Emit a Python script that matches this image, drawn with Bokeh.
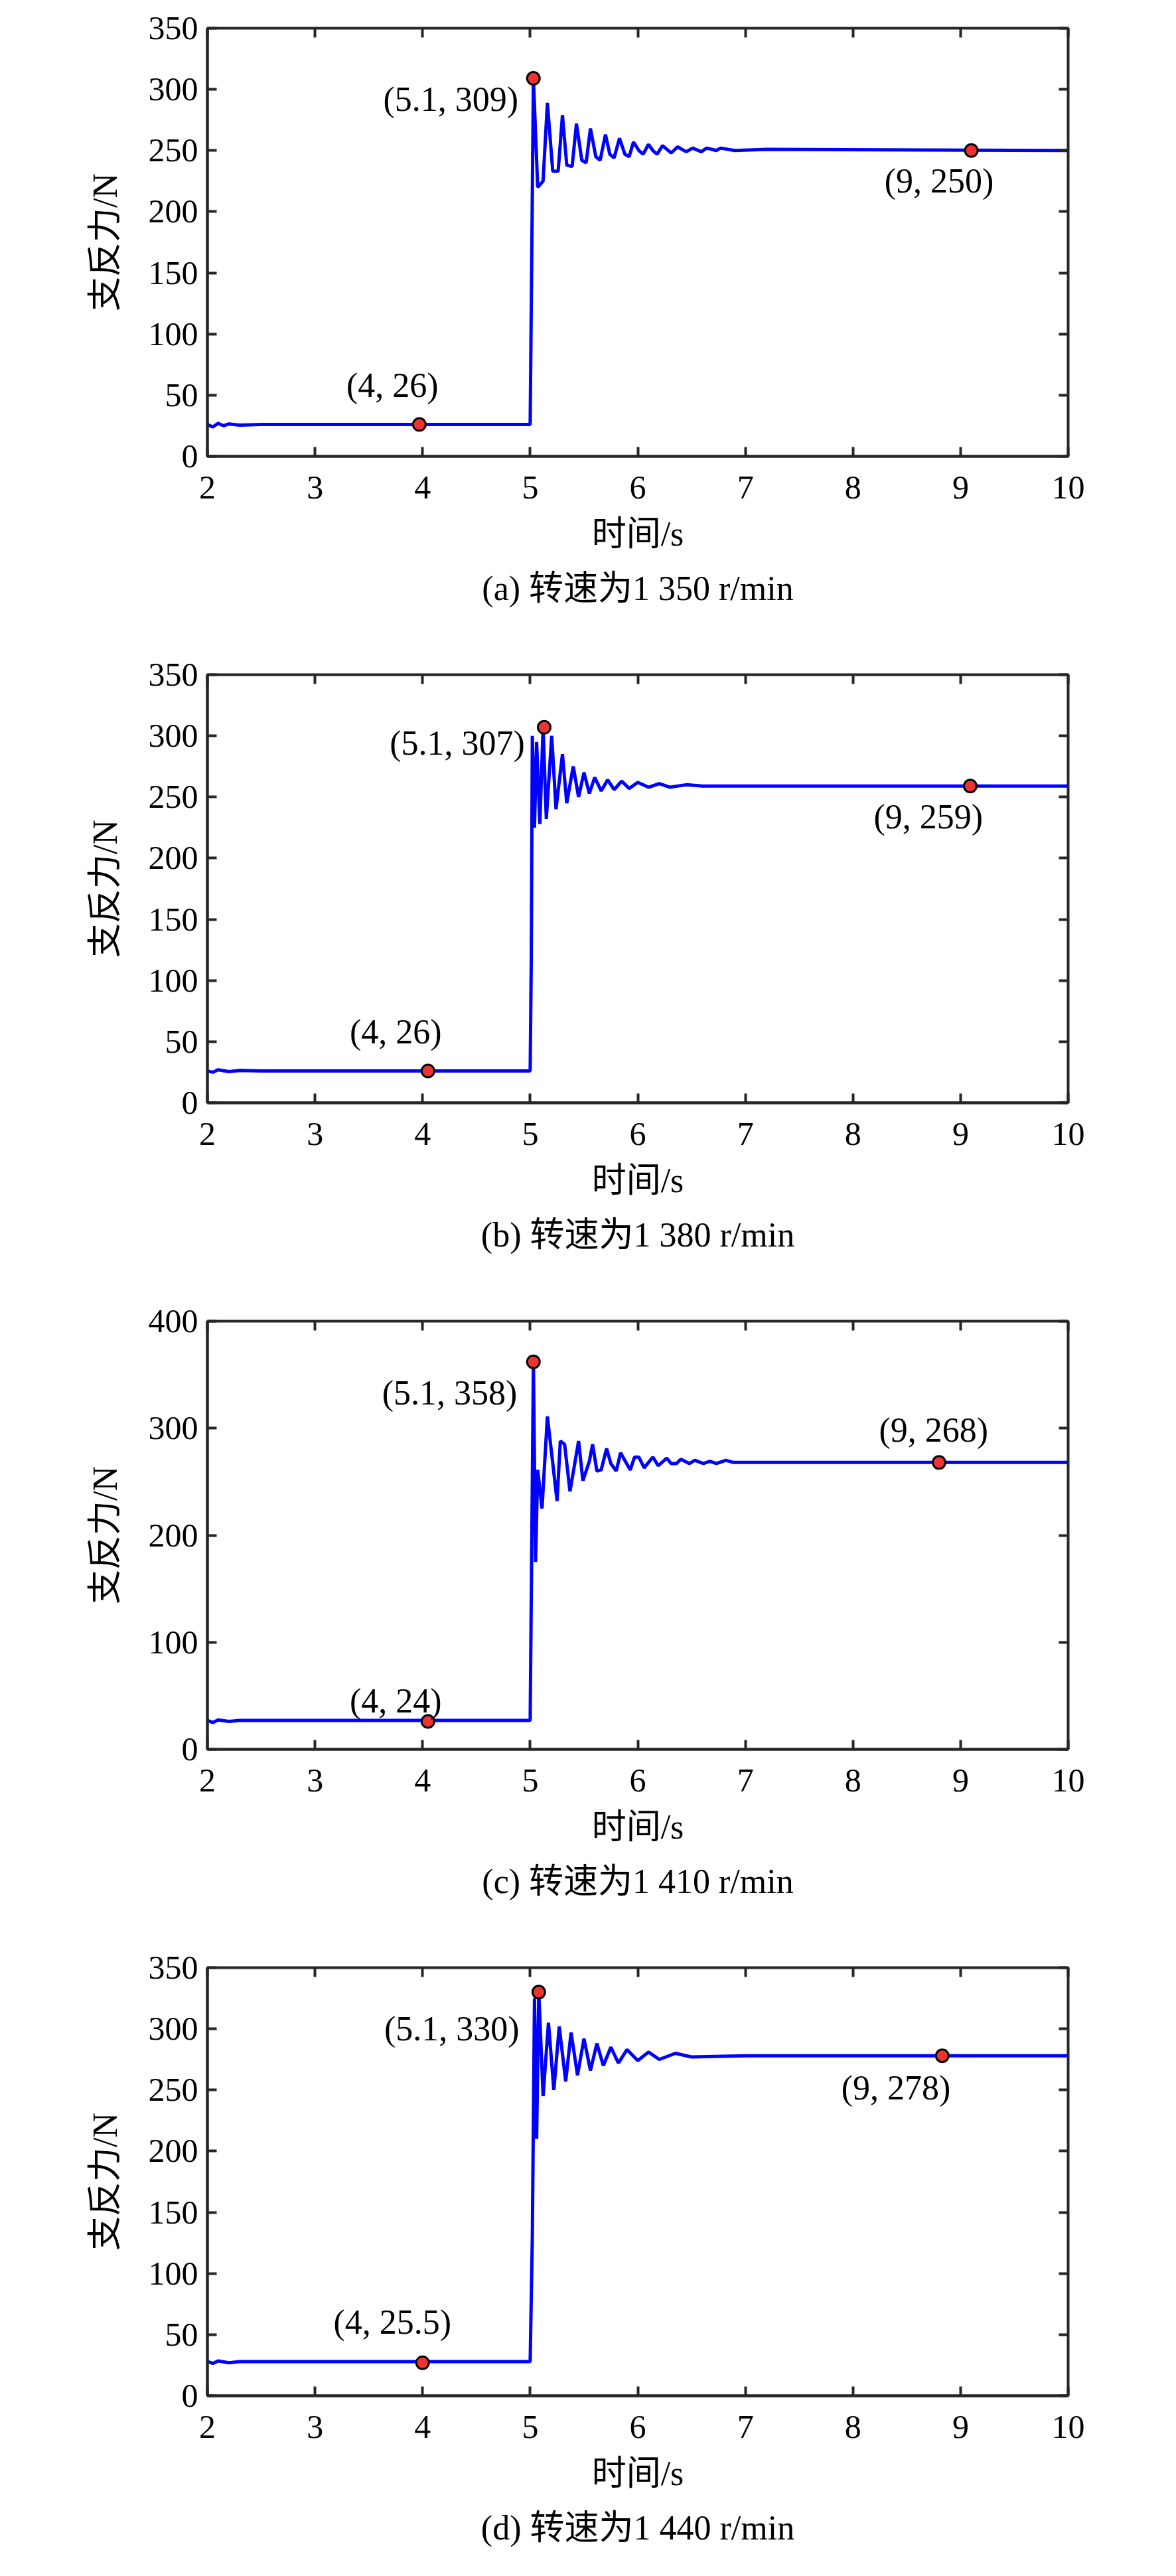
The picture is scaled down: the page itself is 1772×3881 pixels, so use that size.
from bokeh.plotting import figure
from bokeh.layouts import column
from bokeh.models import LinearAxis, Title, Range1d, FixedTicker
from bokeh.core.properties import value
from bokeh.embed import file_html
from bokeh.resources import INLINE

FONT = "Liberation Serif, Noto Sans CJK SC"

captions = ["(a) 转速为1 350 r/min", "(b) 转速为1 380 r/min",
            "(c) 转速为1 410 r/min", "(d) 转速为1 440 r/min"]
ymax = [350, 350, 400, 350]
ystep = [50, 50, 100, 50]

t_a = [2.0, 2.05, 2.1, 2.15, 2.2, 2.3, 2.5, 5.0, 5.03, 5.07, 5.12, 5.16, 5.21, 5.26, 5.30, 5.34, 5.39, 5.43, 5.48,
       5.52, 5.56, 5.61, 5.65, 5.70, 5.74, 5.78, 5.83, 5.88, 5.92, 5.96, 6.01, 6.05, 6.10, 6.14, 6.18,
       6.23, 6.31, 6.37, 6.45, 6.51, 6.59, 6.64, 6.73, 6.77, 6.9, 7.2, 10.0]
v_a = [26, 24, 27, 25, 26.5, 25.5, 26, 26, 309, 220, 225, 289, 233, 233, 279, 238, 237, 272, 242,
       240, 268, 245, 242, 263, 247, 244, 260, 247, 245, 257, 250, 247, 255, 250, 247,
       254, 248, 253, 249, 252, 249, 252, 250, 252, 250, 251, 250]

t_b = [2.0, 2.05, 2.1, 2.2, 2.3, 2.5, 5.0, 5.01, 5.02, 5.04, 5.06, 5.09, 5.12, 5.15, 5.2, 5.24, 5.3, 5.34, 5.4,
       5.45, 5.5, 5.55, 5.6, 5.66, 5.72, 5.78, 5.85, 5.92, 6.0, 6.1, 6.2, 6.3, 6.45, 6.6, 7.0, 10.0]
v_b = [26, 25, 27, 25.5, 26.5, 26, 26, 115, 300, 225, 295, 228, 307, 232, 300, 240, 285, 245, 275,
       250, 270, 253, 266, 255, 264, 256, 263, 257, 262, 258, 261, 258, 260, 259, 259, 259]

t_c = [2.0, 2.05, 2.1, 2.2, 2.3, 2.5, 5.0, 5.03, 5.05, 5.07, 5.11, 5.16, 5.25, 5.28, 5.32, 5.37, 5.45, 5.49, 5.55,
       5.58, 5.62, 5.66, 5.71, 5.75, 5.80, 5.84, 5.93, 5.97, 6.01, 6.06, 6.14, 6.19, 6.27, 6.31, 6.36,
       6.40, 6.48, 6.53, 6.61, 6.67, 6.73, 6.82, 6.89, 10.0]
v_c = [27, 25, 27.5, 26, 27, 27, 27, 362, 175, 261, 225, 311, 232, 288, 285, 241, 288, 251, 269,
       285, 260, 261, 281, 267, 260, 277, 261, 273, 273, 263, 273, 265, 272, 267, 267,
       271, 267, 270, 267, 269, 267, 270, 268, 268]

t_d = [2.0, 2.05, 2.1, 2.2, 2.3, 2.5, 5.0, 5.02, 5.04, 5.06, 5.08, 5.12, 5.17, 5.22, 5.27, 5.33, 5.38, 5.44, 5.5,
       5.56, 5.62, 5.68, 5.75, 5.82, 5.9, 6.0, 6.1, 6.2, 6.35, 6.5, 7.0, 10.0]
v_d = [28, 26.5, 28.5, 27, 28, 28, 28, 130, 325, 210, 330, 245, 305, 250, 302, 257, 297, 262, 292,
       266, 288, 270, 285, 272, 283, 274, 281, 275, 280, 277, 278, 278]

series_t = [t_a, t_b, t_c, t_d]
series_v = [v_a, v_b, v_c, v_d]

mark_t = [[3.97, 5.03, 9.1], [4.05, 5.13, 9.09], [4.05, 5.03, 8.8], [4.0, 5.08, 8.83]]
mark_v = [[26, 309, 250], [26, 307, 259], [26, 362, 268], [27, 330, 278]]
lab_text = [["(4, 26)", "(5.1, 309)", "(9, 250)"], ["(4, 26)", "(5.1, 307)", "(9, 259)"],
            ["(4, 24)", "(5.1, 358)", "(9, 268)"], ["(4, 25.5)", "(5.1, 330)", "(9, 278)"]]
lab_t = [[3.72, 4.89, 8.8], [3.75, 4.95, 8.7], [3.75, 4.88, 8.75], [3.72, 4.9, 8.4]]
lab_v = [[58, 292, 225], [58, 294, 234], [45, 333, 298], [60, 300, 252]]
lab_align = [["center", "right", "center"], ["center", "right", "center"],
             ["center", "right", "center"], ["center", "right", "center"]]

figs = []
for i in range(4):
    p = figure(frame_width=1297, frame_height=645, x_range=Range1d(2, 10), y_range=Range1d(0, ymax[i]),
               output_backend="svg", toolbar_location=None, min_border_left=312, min_border_right=40,
               min_border_top=42, min_border_bottom=287, background_fill_color="white",
               border_fill_color="white")
    p.grid.visible = False
    p.outline_line_color = "#262626"
    p.outline_line_width = 4
    xt = FixedTicker(ticks=list(range(2, 11)))
    yt = FixedTicker(ticks=list(range(0, ymax[i] + 1, ystep[i])))
    p.xaxis.ticker = xt
    p.yaxis.ticker = yt
    p.xaxis.axis_label = "时间/s"
    p.yaxis.axis_label = "支反力/N"
    for ax in [p.xaxis[0], p.yaxis[0]]:
        ax.axis_line_width = 4
        ax.axis_line_color = "#262626"
        ax.major_tick_in = 14
        ax.major_tick_out = 0
        ax.major_tick_line_width = 4
        ax.major_tick_line_color = "#262626"
        ax.minor_tick_line_color = None
        ax.major_label_text_font = FONT
        ax.major_label_text_font_size = "50px"
        ax.major_label_text_color = "black"
        ax.axis_label_text_font = FONT
        ax.axis_label_text_font_size = "52px"
        ax.axis_label_text_font_style = "normal"
        ax.axis_label_text_color = "black"
    p.xaxis.major_label_standoff = 30
    p.xaxis.axis_label_standoff = 22
    p.yaxis.major_label_standoff = 14
    p.yaxis.axis_label_standoff = 34
    for loc, tk in [("right", yt), ("above", xt)]:
        a2 = LinearAxis(ticker=tk, major_tick_in=14, major_tick_out=0, major_tick_line_width=4,
                        major_tick_line_color="#262626", minor_tick_line_color=None,
                        axis_line_color=None, major_label_text_color=None,
                        major_label_text_font_size="1px", major_label_standoff=0)
        p.add_layout(a2, loc)
    p.line(series_t[i], series_v[i], line_color="#0000ff", line_width=5)
    p.scatter(mark_t[i], mark_v[i], size=19, fill_color="#ee3333", line_color="black", line_width=3)
    for k in range(3):
        p.text([lab_t[i][k]], [lab_v[i][k]], text=[lab_text[i][k]], text_font=value(FONT),
               text_font_size="52px", text_align=lab_align[i][k], text_baseline="middle", text_color="black")
    cap = Title(text=captions[i], align="center", text_font=FONT, text_font_size="52px",
                text_font_style="normal", text_color="black", standoff=40)
    p.add_layout(cap, "below")
    figs.append(p)

layout = column(*figs, spacing=0)
open("out.html", "w").write(file_html(layout, INLINE))
